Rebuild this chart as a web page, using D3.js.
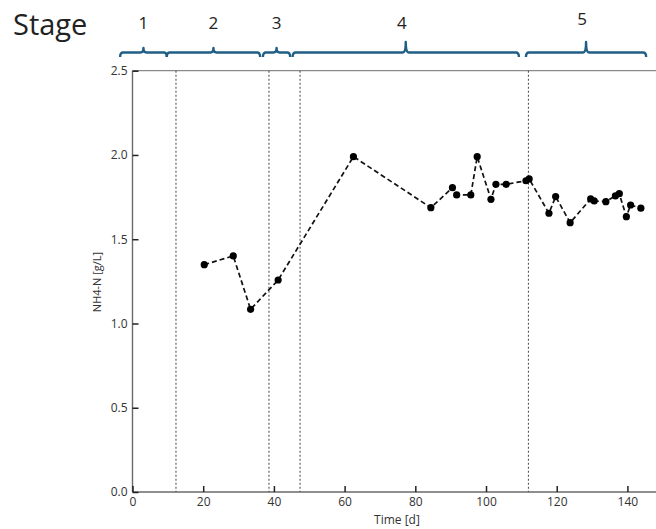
<!DOCTYPE html>
<html><head><meta charset="utf-8">
<script src="https://cdn.jsdelivr.net/npm/d3@7"></script>
<style>body{margin:0;background:#fff;} svg{display:block;}</style>
</head><body>
<script>
// Data
const timeDays = [20.3,28.5,33.4,41.2,62.5,84.4,90.5,91.7,95.7,97.5,101.4,102.8,105.7,111.3,112.2,117.8,119.7,123.8,129.6,130.6,133.9,136.6,137.7,139.7,140.9,143.8];
const nh4 = [1.349,1.401,1.084,1.258,1.990,1.687,1.806,1.763,1.763,1.990,1.737,1.826,1.826,1.847,1.858,1.654,1.753,1.598,1.739,1.727,1.723,1.757,1.770,1.634,1.703,1.684];
const stageBoundaries = [12.3,38.6,47.4,112.0];
const stageLabels = ["1","2","3","4","5"];
const stageStart = [-3.5,9.7,36.9,45.3,111.3];
const stageEnd = [9.7,36.1,44.6,109.3,145.3];
const xTicks = [0,20,40,60,80,100,120,140];
const yTicks = [0,0.5,1.0,1.5,2.0,2.5];

const W=656,H=529;
const svg=d3.select("body").append("svg").attr("width",W).attr("height",H);
const x=d3.scaleLinear().domain([0,148]).range([132.5,655.7]);
const y=d3.scaleLinear().domain([0,2.5]).range([492,70.7]);
const font="'Open Sans', sans-serif";

// spines
svg.append("line").attr("x1",x(0)).attr("x2",W).attr("y1",y(2.5)).attr("y2",y(2.5)).attr("stroke","#8a8a8a").attr("stroke-width",1.3);
svg.append("line").attr("x1",x(0)).attr("x2",W).attr("y1",y(0)).attr("y2",y(0)).attr("stroke","#6a6a6a").attr("stroke-width",1.4);
svg.append("line").attr("x1",x(0)).attr("x2",x(0)).attr("y1",y(2.5)).attr("y2",y(0)).attr("stroke","#6a6a6a").attr("stroke-width",1.4);

// axes ticks (inward)
const xAxis=d3.axisBottom(x).tickValues(xTicks).tickSizeInner(-6).tickSizeOuter(0).tickPadding(5).tickFormat(d3.format("d"));
const gx=svg.append("g").attr("transform",`translate(0,${y(0)})`).call(xAxis);
gx.select(".domain").remove();
gx.selectAll(".tick line").attr("stroke","#222").attr("stroke-width",1.5);
gx.selectAll("text").attr("font-family",font).attr("font-size",12).attr("fill","#333");

const yAxis=d3.axisLeft(y).tickValues(yTicks).tickSizeInner(-6).tickSizeOuter(0).tickPadding(5).tickFormat(d3.format(".1f"));
const gy=svg.append("g").attr("transform",`translate(${x(0)},0)`).call(yAxis);
gy.select(".domain").remove();
gy.selectAll(".tick line").attr("stroke","#222").attr("stroke-width",1.5);
gy.selectAll("text").attr("font-family",font).attr("font-size",12).attr("fill","#333");

// axis titles
svg.append("text").attr("x",397).attr("y",524).attr("text-anchor","middle").attr("font-family",font).attr("font-size",12).attr("fill","#333").text("Time [d]");
svg.append("text").attr("transform","translate(101,282) rotate(-90)").attr("text-anchor","middle").attr("font-family",font).attr("font-size",11).attr("fill","#333").text("NH4-N [g/L]");

// stage boundaries
svg.selectAll(".vb").data(stageBoundaries).enter().append("line")
 .attr("x1",d=>x(d)).attr("x2",d=>x(d)).attr("y1",y(2.5)).attr("y2",y(0))
 .attr("stroke","#555").attr("stroke-width",1.1).attr("stroke-dasharray","2,2");

// data line
const pts=timeDays.map((t,i)=>[t,nh4[i]]);
svg.append("path").datum(pts).attr("fill","none").attr("stroke","#111").attr("stroke-width",1.7).attr("stroke-dasharray","5,3")
 .attr("d",d3.line().x(d=>x(d[0])).y(d=>y(d[1])));
svg.selectAll(".pt").data(pts).enter().append("circle").attr("cx",d=>x(d[0])).attr("cy",d=>y(d[1])).attr("r",3.6).attr("fill","#000");

// braces
const braceColor="#1f5f85";
const yLine=52.5, yEnd=57;
stageLabels.forEach((lab,i)=>{
  const x0=x(stageStart[i]), x1=x(stageEnd[i]), xc=(x0+x1)/2;
  const tip = i>=3 ? 42 : 48;
  const r=3;
  const p=`M${x0},${yEnd} Q${x0},${yLine} ${x0+r},${yLine} L${xc-r},${yLine} Q${xc},${yLine} ${xc},${tip} Q${xc},${yLine} ${xc+r},${yLine} L${x1-r},${yLine} Q${x1},${yLine} ${x1},${yEnd}`;
  svg.append("path").attr("d",p).attr("fill","none").attr("stroke",braceColor).attr("stroke-width",2.4).attr("stroke-linejoin","round");
  svg.append("text").attr("x",xc-(i>=3?4:0)).attr("y",i===4?25:29).attr("text-anchor","middle").attr("font-family",font).attr("font-size",17).attr("fill","#222").text(lab);
});
svg.append("text").attr("x",13).attr("y",35).attr("font-family",font).attr("font-size",29).attr("fill","#222").text("Stage");
</script>
</body></html>
